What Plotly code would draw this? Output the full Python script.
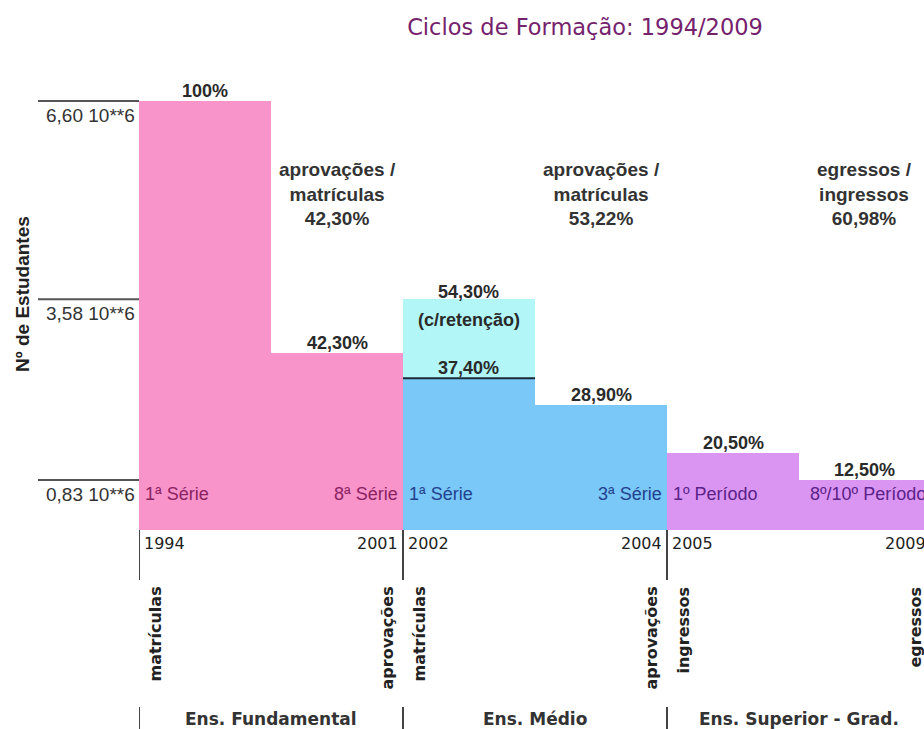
import plotly.graph_objects as go

# ---------------- data ----------------
stage_labels = ["1ª Série", "8ª Série", "1ª Série", "3ª Série", "1º Período", "8º/10º Período"]
stage_values = [6.60, 2.76, 2.38, 1.97, 1.24, 0.83]          # students (10**6)
stage_pct = ["100%", "42,30%", "37,40%", "28,90%", "20,50%", "12,50%"]
stage_level = [0, 0, 1, 1, 2, 2]

retention_value = 3.58
retention_pct = "54,30%"
retention_note = "(c/retenção)"

years = ["1994", "2001", "2002", "2004", "2005", "2009"]
flow_labels = ["matrículas", "aprovações", "matrículas", "aprovações", "ingressos", "egressos"]
levels = ["Ens. Fundamental", "Ens. Médio", "Ens. Superior - Grad."]
ratio_labels = ["aprovações /<br>matrículas<br>42,30%",
                "aprovações /<br>matrículas<br>53,22%",
                "egressos /<br>ingressos<br>60,98%"]

y_ticks = [6.60, 3.58, 0.83]
y_tick_text = ["6,60 10**6", "3,58 10**6", "0,83 10**6"]

level_colors = ["#F994CB", "#79C8F7", "#DA95F2"]
level_text_colors = ["#8B2262", "#22418F", "#5B2288"]
retention_color = "#B2F6F8"

# ---------------- geometry (page pixels) ----------------
W, H = 924, 729
PLOT_L, PLOT_T, PLOT_B = 139, 80, 530
L, T, R = PLOT_L, PLOT_T, 0
B = H - PLOT_B
plot_w = W - L - R
plot_h = H - T - B
SEG = (403 - 139) / 2                           # pixels per stage
X_MAX = plot_w / SEG


def py(pix):
    """paper y for a page pixel row"""
    return (PLOT_B - pix) / plot_h


def px(pix):
    """paper x for a page pixel column"""
    return (pix - PLOT_L) / plot_w


def xd(v):
    """paper x for a data x value"""
    return v / X_MAX


xs = [i + 0.5 for i in range(len(stage_values))]

fig = go.Figure()
fig.add_trace(go.Bar(x=[xs[2]], y=[retention_value], width=1,
                     marker=dict(color=retention_color, line=dict(width=0)),
                     hoverinfo="skip", showlegend=False))
fig.add_trace(go.Bar(x=xs, y=stage_values, width=1,
                     marker=dict(color=[level_colors[l] for l in stage_level], line=dict(width=0)),
                     hoverinfo="skip", showlegend=False))

shapes = []
ann = []

NUM_FONT = "Liberation Sans, Arial, sans-serif"
TAH_FONT = "DejaVu Sans, Verdana, sans-serif"

# line on top of the blue (no retention) bar
shapes.append(dict(type="line", xref="x", yref="y", x0=2, x1=3,
                   y0=stage_values[2], y1=stage_values[2],
                   line=dict(color="#1a2a3a", width=2)))

# left value ticks
for v, t in zip(y_ticks, y_tick_text):
    shapes.append(dict(type="line", xref="paper", yref="y", x0=px(38), x1=0,
                       y0=v, y1=v, line=dict(color="#555555", width=2)))
    ann.append(dict(xref="paper", yref="y", x=px(137), y=v, xanchor="right", yanchor="top",
                    yshift=-2, text=t, showarrow=False,
                    font=dict(family=NUM_FONT, size=19, color="#333333")))

# percentage labels over bars
for i, (v, p) in enumerate(zip(stage_values, stage_pct)):
    ann.append(dict(xref="paper", yref="y", x=xd(xs[i]), y=v, xanchor="center", yanchor="bottom",
                    yshift=-2, text=p, showarrow=False,
                    font=dict(family=NUM_FONT, size=18, color="#2a2a2a", weight="bold")))
ann.append(dict(xref="paper", yref="y", x=xd(xs[2]), y=retention_value, xanchor="center",
                yanchor="bottom", yshift=-5, text=retention_pct, showarrow=False,
                font=dict(family=NUM_FONT, size=18, color="#2a2a2a", weight="bold")))
ann.append(dict(xref="paper", yref="y", x=xd(xs[2]), y=retention_value, xanchor="center",
                yanchor="top", yshift=-9, text=retention_note, showarrow=False,
                font=dict(family=NUM_FONT, size=18, color="#2a2a2a", weight="bold")))

# stage names inside bars
for i, s in enumerate(stage_labels):
    left = (i % 2 == 0)
    ann.append(dict(xref="paper", yref="paper", x=xd(i if left else i + 1), y=py(494),
                    xanchor="left" if left else "right", yanchor="middle",
                    xshift=4 if left else -3, text=s, showarrow=False,
                    font=dict(family=NUM_FONT, size=18, color=level_text_colors[stage_level[i]])))

# years
for i, yr in enumerate(years):
    left = (i % 2 == 0)
    ann.append(dict(xref="paper", yref="paper", x=xd(i if left else i + 1), y=py(543),
                    xanchor="left" if left else "right", yanchor="middle",
                    xshift=3 if left else -3, text=yr, showarrow=False,
                    font=dict(family=TAH_FONT, size=16, color="#222222")))

# rotated flow labels
for i, f in enumerate(flow_labels):
    left = (i % 2 == 0)
    ann.append(dict(xref="paper", yref="paper", x=xd(i if left else i + 1), y=py(585),
                    xanchor="center", yanchor="top", textangle=-90,
                    xshift=16 if left else -16, text=f, showarrow=False,
                    font=dict(family=TAH_FONT, size=16, color="#222222", weight="bold")))

# vertical separators
for b in range(0, len(stage_values), 2):
    shapes.append(dict(type="line", xref="x", yref="paper", x0=b, x1=b,
                       y0=0, y1=py(580), line=dict(color="#444444", width=2)))
    shapes.append(dict(type="line", xref="x", yref="paper", x0=b, x1=b,
                       y0=py(707), y1=py(735), line=dict(color="#444444", width=2)))

# level names
for k, lv in enumerate(levels):
    ann.append(dict(xref="paper", yref="paper", x=xd(2 * k + 1), y=py(719), xanchor="center",
                    yanchor="middle", text=lv, showarrow=False,
                    font=dict(family=TAH_FONT, size=17, color="#333333", weight="bold")))

# ratio labels
for k, r in enumerate(ratio_labels):
    ann.append(dict(xref="paper", yref="paper", x=xd(2 * k + 1.5), y=py(194), xanchor="center",
                    yanchor="middle", text=r, showarrow=False,
                    font=dict(family=NUM_FONT, size=19, color="#333333", weight="bold")))

# y-axis title
ann.append(dict(xref="paper", yref="paper", x=px(22), y=py(294), xanchor="center",
                yanchor="middle", textangle=-90, text="Nº de Estudantes", showarrow=False,
                font=dict(family=NUM_FONT, size=19, color="#222222", weight="bold")))

scale = (480 - 101) / (y_ticks[0] - y_ticks[2])   # px per unit
y_bottom = y_ticks[2] - (PLOT_B - 480) / scale
y_top = y_ticks[0] + (101 - PLOT_T) / scale

fig.update_layout(
    width=W, height=H,
    margin=dict(l=L, r=R, t=T, b=B, pad=0),
    paper_bgcolor="white", plot_bgcolor="white",
    barmode="overlay", bargap=0,
    title=dict(text="Ciclos de Formação: 1994/2009", x=585 / W, y=1 - 27 / H,
               xanchor="center", yanchor="middle",
               font=dict(family=TAH_FONT, size=22.5, color="#75226C")),
    xaxis=dict(range=[0, X_MAX], visible=False, fixedrange=True),
    yaxis=dict(range=[y_bottom, y_top], visible=False, fixedrange=True),
    shapes=shapes, annotations=ann, showlegend=False,
)

fig.write_html("out.html",
               config={"displayModeBar": False, "staticPlot": True},
               post_script="document.body.style.margin='0';"
                           "document.body.style.overflow='hidden';"
                           "document.documentElement.style.overflow='hidden';")
